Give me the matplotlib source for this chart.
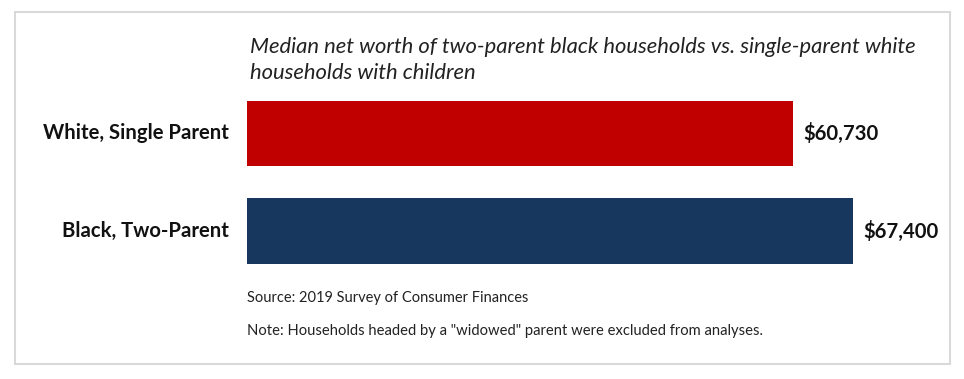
import matplotlib.pyplot as plt
from matplotlib.patches import Rectangle

groups = ["Black, Two-Parent", "White, Single Parent"]
worth = [67400, 60730]
colors = ["#17375E", "#C00000"]

title = ("Median net worth of two-parent black households vs. single-parent white\n"
         "households with children")
source = "Source: 2019 Survey of Consumer Finances"
note = 'Note: Households headed by a "widowed" parent were excluded from analyses.'

plt.rcParams["font.family"] = ["Lato", "DejaVu Sans"]

W, H = 964, 379
fig = plt.figure(figsize=(W / 100, H / 100), dpi=100)
fig.patch.set_facecolor("white")

# light frame round the whole chart
fig.patches.append(Rectangle((15 / W, 1 - 364 / H), 935 / W, 352 / H,
                             transform=fig.transFigure, fill=False,
                             edgecolor="#d9d9d9", linewidth=1.5))

ax = fig.add_axes([247 / W, 1 - 275 / H, 683 / W, 185 / H])
ypos = list(range(len(groups)))
ax.barh(ypos, worth, height=0.667, color=colors)
ax.set_xlim(0, 75970)
ax.set_ylim(-0.451, 1.446)
ax.axis("off")

for y, g, v in zip(ypos, groups, worth):
    ax.text(-0.027 * 75970, y, g, ha="right", va="center",
            fontsize=14.6, fontweight="bold", color="#111111")
    ax.text(v + 1200, y, f"${v:,}", ha="left", va="center",
            fontsize=14.6, fontweight="bold", color="#111111")

# baseline of a multi-line text sits on its last line
fig.text(250 / W, 1 - 79 / H, title, ha="left", va="baseline", fontsize=15.8,
         fontstyle="italic", color="#222222", linespacing=1.4)
fig.text(247 / W, 1 - 298 / H, source, ha="left", va="center",
         fontsize=10.5, color="#222222")
fig.text(247 / W, 1 - 331 / H, note, ha="left", va="center",
         fontsize=10.6, color="#222222")

fig.savefig("out.png", dpi=100)
